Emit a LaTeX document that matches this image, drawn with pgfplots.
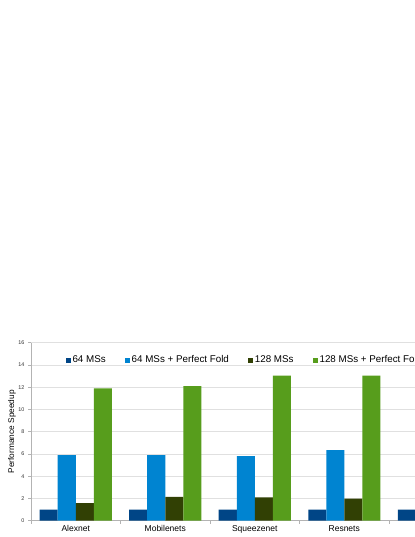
\documentclass[border=0pt]{standalone}
\usepackage{fontspec}
\setmainfont{Liberation Sans}
\usepackage{pgfplots}
\pgfplotsset{compat=1.18}
\definecolor{c1}{HTML}{004586}
\definecolor{c2}{HTML}{0084D1}
\definecolor{c3}{HTML}{314004}
\definecolor{c4}{HTML}{579D1C}
\definecolor{gridc}{HTML}{E0E0E0}
\definecolor{axisc}{HTML}{B3B3B3}
\begin{document}
\begin{tikzpicture}
\useasboundingbox (0bp,0bp) rectangle (415bp,537bp);
\fill[white] (0bp,0bp) rectangle (415bp,537bp);
\clip (0bp,0bp) rectangle (415bp,537bp);
\begin{axis}[
  at={(31bp,16.3bp)}, anchor=south west,
  scale only axis, width=447.5bp, height=178bp,
  ybar=0pt, bar width=18bp,
  xmin=-0.5, xmax=4.5, ymin=0, ymax=16,
  xtick={-0.5,0.5,1.5,2.5,3.5,4.5},
  xticklabels={},
  extra x ticks={0,1,2,3},
  extra x tick labels={Alexnet,Mobilenets,Squeezenet,Resnets},
  extra x tick style={major tick length=0pt, grid=none},
  ytick={0,2,...,16},
  ymajorgrids, grid style={gridc, line width=0.6bp},
  axis x line*=bottom, axis y line*=left,
  axis line style={axisc, -, line width=0.6bp},
  tick align=outside,
  tick style={axisc, line width=0.6bp},
  major tick length=3bp,
  xticklabel style={font=\fontsize{8.5bp}{10bp}\selectfont, text=black, yshift=-1.5bp},
  yticklabel style={font=\fontsize{5.4bp}{6bp}\selectfont, text=black!80},
  /pgf/number format/assume math mode=true,
  ylabel={Performance Speedup},
  ylabel style={at={(axis description cs:-0.0425,0.5)}, anchor=center, font=\fontsize{8.3bp}{10bp}\selectfont},
  legend style={at={(rel axis cs:0.07,0.906)}, anchor=west, draw=none, fill=none,
    legend columns=-1, font=\fontsize{9.8bp}{11bp}\selectfont,
    /tikz/every even column/.append style={column sep=17bp}},
  legend image code/.code={\fill[#1,draw=none] (-1.2bp,-3.5bp) rectangle (3.8bp,1.5bp);},
]
\addplot[fill=c1, draw=none] coordinates {(0,1.0) (1,1.0) (2,1.0) (3,1.0) (4,1.0)};
\addplot[fill=c2, draw=none] coordinates {(0,5.9) (1,5.9) (2,5.8) (3,6.35)};
\addplot[fill=c3, draw=none] coordinates {(0,1.58) (1,2.15) (2,2.1) (3,1.98)};
\addplot[fill=c4, draw=none] coordinates {(0,11.9) (1,12.1) (2,13.05) (3,13.05)};
\legend{64 MSs, 64 MSs + Perfect Fold, 128 MSs, 128 MSs + Perfect Fold}
\end{axis}
\end{tikzpicture}
\end{document}
